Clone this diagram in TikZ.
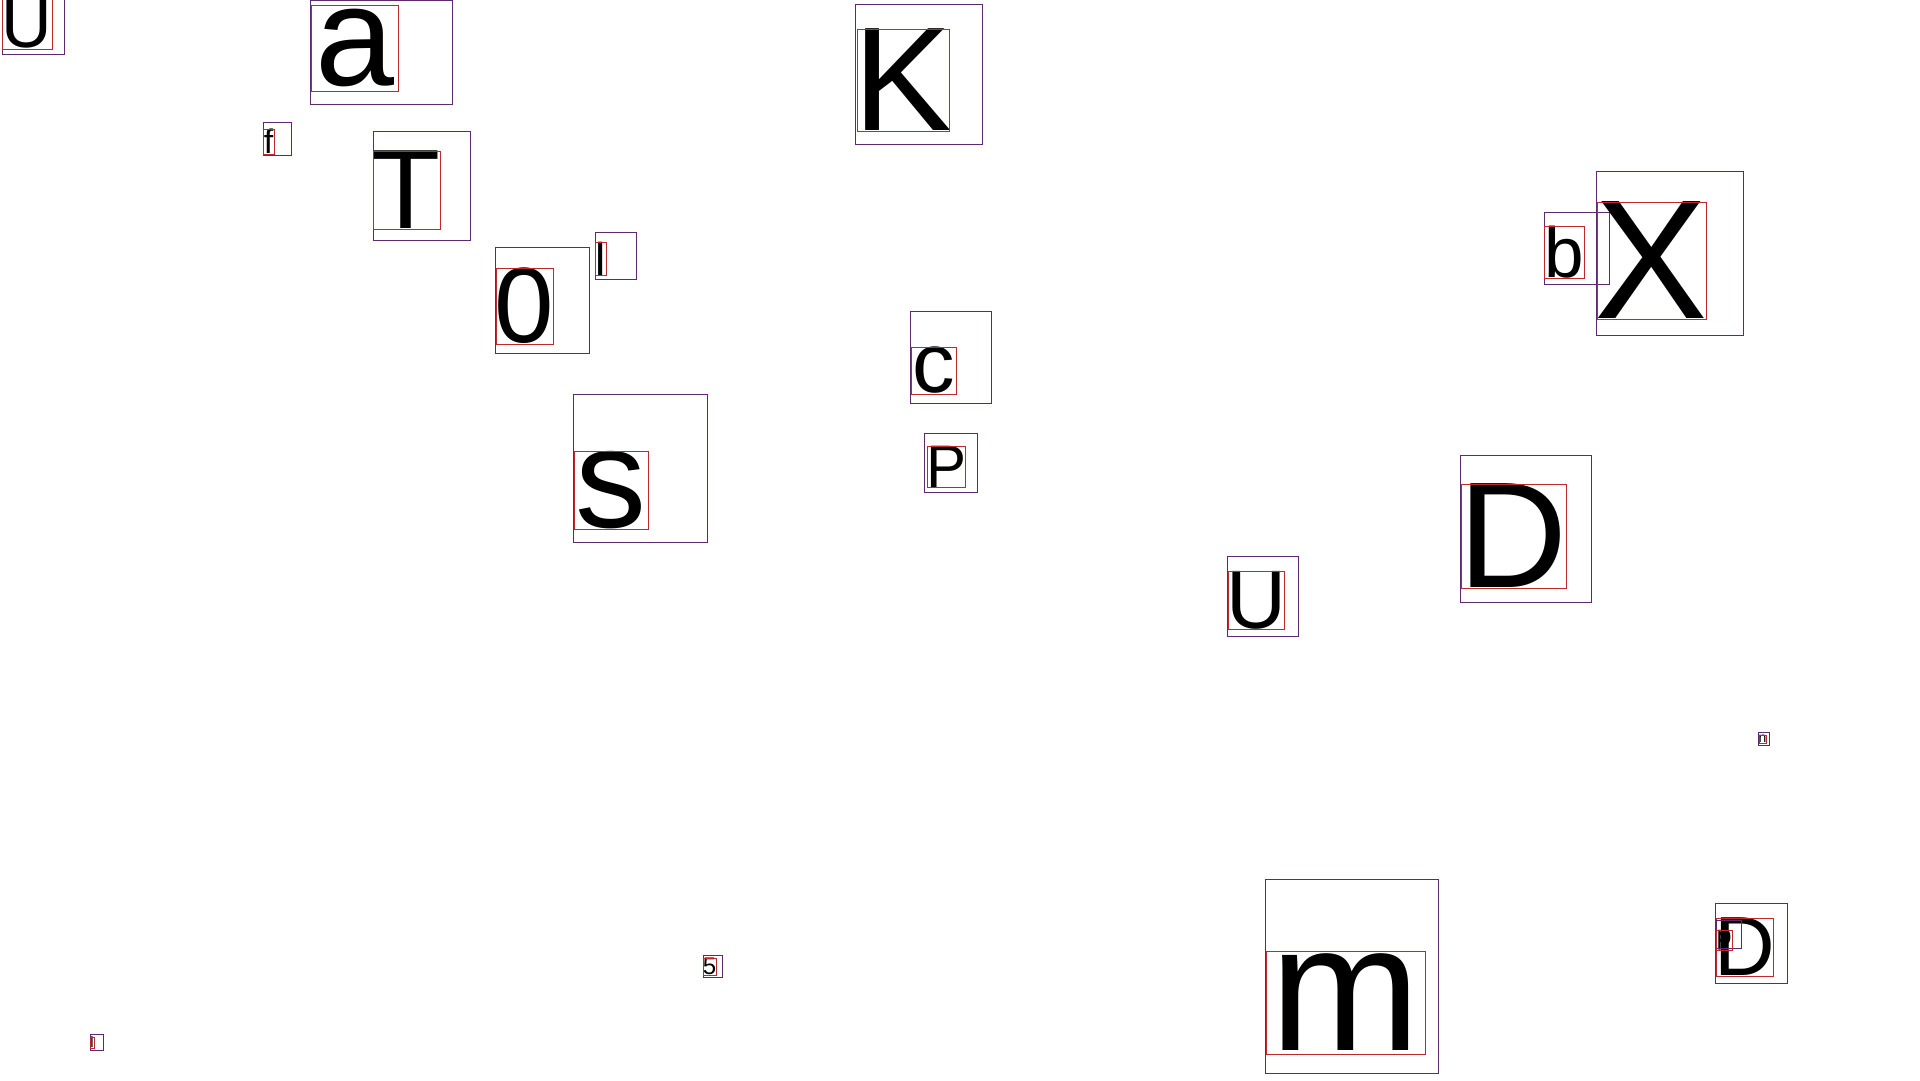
\documentclass[tikz,border=0pt]{standalone}
\usepackage{fontspec}
\setmainfont{Liberation Sans}
\usepackage{tikz}
\usetikzlibrary{positioning,calc}

\definecolor{boxpurple}{HTML}{5E2A6E}
\definecolor{inkred}{HTML}{C0282D}

\begin{document}
\begin{tikzpicture}[
    x=1pt, y=-1pt,
    outerbox/.style={draw=boxpurple, line width=0.9pt},
    inkbox/.style={draw=inkred, line width=0.9pt},
    glyph/.style={inner sep=0pt, outer sep=0pt, text=black}
]
    \useasboundingbox[fill=white] (0,0) rectangle (1920,1080);

    % Letters with their outer and ink boxes
    \foreach \ox/\oy/\oX/\oY/\rx/\ry/\rX/\rY/\ch/\sz [count=\i] in {
        2/-6/64/54/2/-2/52/49/U/70,
        310/0/452/104/311/5/398/91/a/142,
        263/122/291/155/263/129/274/154/f/34,
        373/131/470/240/373/151/440/229/T/113,
        495/247/589/353/496/268/553/344/0/107,
        595/232/636/279/595/242/606/275/l/46,
        855/4/982/144/857/29/949/131/K/148,
        910/311/991/403/911/347/956/394/c/85,
        924/433/977/492/927/446/965/487/P/60,
        573/394/707/542/574/451/648/529/s/142,
        1544/212/1609/284/1544/226/1584/278/b/71,
        1596/171/1743/335/1597/202/1706/319/X/170,
        1460/455/1591/602/1461/484/1566/588/D/151,
        1227/556/1298/636/1228/571/1284/629/U/83,
        1758/732/1769/745/1759/735/1766/743/n/14,
        1265/879/1438/1073/1266/951/1425/1054/m/180,
        1715/903/1787/983/1716/918/1773/976/D/84,
        1716/920/1741/948/1716/930/1732/950/p/27,
        703/955/722/977/703/958/716/975/5/24,
        90/1034/103/1050/90/1037/94/1048/l/15}
    {
        \node[glyph, font=\fontsize{\sz}{\sz}\selectfont] (g\i)
            at ({(\rx+\rX)/2},{(\ry+\rY)/2}) {\ch};
        \draw[outerbox] (\ox,\oy) rectangle (\oX,\oY);
        \draw[inkbox] (\rx,\ry) rectangle (\rX,\rY);
    }
\end{tikzpicture}
\end{document}
